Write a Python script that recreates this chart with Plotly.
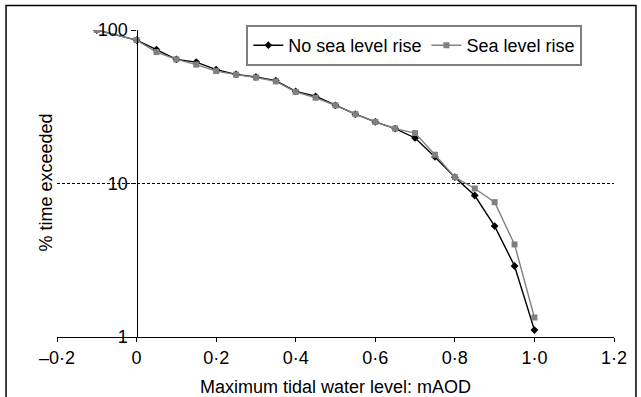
import plotly.graph_objects as go

# ---- data ----
levels = [-0.1, 0.0, 0.05, 0.1, 0.15, 0.2, 0.25, 0.3, 0.35, 0.4, 0.45, 0.5,
          0.55, 0.6, 0.65, 0.7, 0.75, 0.8, 0.85, 0.9, 0.95, 1.0]
no_slr = [100, 86, 74.5, 64.4, 61.8, 55.2, 51.4, 49.4, 46.8, 39.8, 37.0, 32.3,
          28.3, 25.2, 22.8, 19.8, 14.9, 11.0, 8.35, 5.28, 2.90, 1.11]
slr = [100, 86, 71.8, 64.4, 59.5, 54.0, 51.2, 49.0, 46.3, 39.5, 36.2, 32.3,
       28.3, 25.2, 22.8, 21.3, 15.4, 11.0, 9.28, 7.56, 4.01, 1.34]
x_ticks = [-0.2, 0.0, 0.2, 0.4, 0.6, 0.8, 1.0, 1.2]
x_ticktext = ["\u20130\u00b72", "0", "0\u00b72", "0\u00b74", "0\u00b76", "0\u00b78", "1\u00b70", "1\u00b72"]
y_ticks = [1, 10, 100]
y_ticktext = ["1", "10", "100"]
threshold = 10

W, H = 641, 397
ML, MR, MT, MB = 56.5, 27, 30, 60
PW, PH = W - ML - MR, H - MT - MB

def px_x(p):
    return (p - ML) / PW

def px_y(p):
    return (H - MB - p) / PH

FONT = "Liberation Sans, Arial, sans-serif"

fig = go.Figure()
fig.add_trace(go.Scatter(
    x=levels, y=no_slr, name="No sea level rise", mode="lines+markers",
    line=dict(color="#000000", width=1.4),
    marker=dict(symbol="diamond", size=6, color="#000000"),
))
fig.add_trace(go.Scatter(
    x=levels, y=slr, name="Sea level rise", mode="lines+markers",
    line=dict(color="#808080", width=1.4),
    marker=dict(symbol="square", size=6, color="#808080"),
))

fig.add_shape(type="line", xref="x", yref="y", x0=x_ticks[0], x1=x_ticks[-1],
              y0=threshold, y1=threshold,
              line=dict(color="#000000", width=1, dash="3px,2px"), layer="below")

# outer frame
fig.add_shape(type="rect", xref="paper", yref="paper",
              x0=px_x(5.5), x1=px_x(636), y0=px_y(402), y1=px_y(5.5),
              line=dict(color="#000000", width=1.5))

fig.add_annotation(text="% time exceeded", xref="paper", yref="paper",
                   x=px_x(33), y=px_y(183), textangle=-90, showarrow=False,
                   font=dict(size=18, color="#000000", family=FONT))
fig.add_annotation(text="Maximum tidal water level: mAOD", xref="paper", yref="paper",
                   x=px_x(335), y=px_y(387), showarrow=False,
                   xanchor="center", yanchor="middle",
                   font=dict(size=18, color="#000000", family=FONT))

fig.update_layout(
    width=W, height=H,
    margin=dict(l=ML, r=MR, t=MT, b=MB),
    paper_bgcolor="white", plot_bgcolor="white",
    font=dict(family=FONT, size=18, color="#000000"),
    showlegend=True,
    legend=dict(orientation="h", x=px_x(246), y=px_y(25), xanchor="left", yanchor="top",
                bordercolor="#7f7f7f", borderwidth=2, bgcolor="white",
                font=dict(size=18, family=FONT), tracegroupgap=0,
                itemwidth=30),
    xaxis=dict(range=[-0.2, 1.2], tickvals=x_ticks, ticktext=x_ticktext,
               showline=True, linecolor="#000000", linewidth=1.2,
               ticks="outside", ticklen=4, tickcolor="#000000",
               showgrid=False, zeroline=False, anchor="y",
               tickfont=dict(size=18, family=FONT)),
    yaxis=dict(type="log", range=[0, 2], tickvals=y_ticks, ticktext=y_ticktext,
               showline=True, linecolor="#000000", linewidth=1.2,
               ticks="outside", ticklen=5, tickcolor="#000000",
               showgrid=False, zeroline=False, anchor="free", position=1/7,
               tickfont=dict(size=18, family=FONT)),
)

fig.write_html("out.html")
